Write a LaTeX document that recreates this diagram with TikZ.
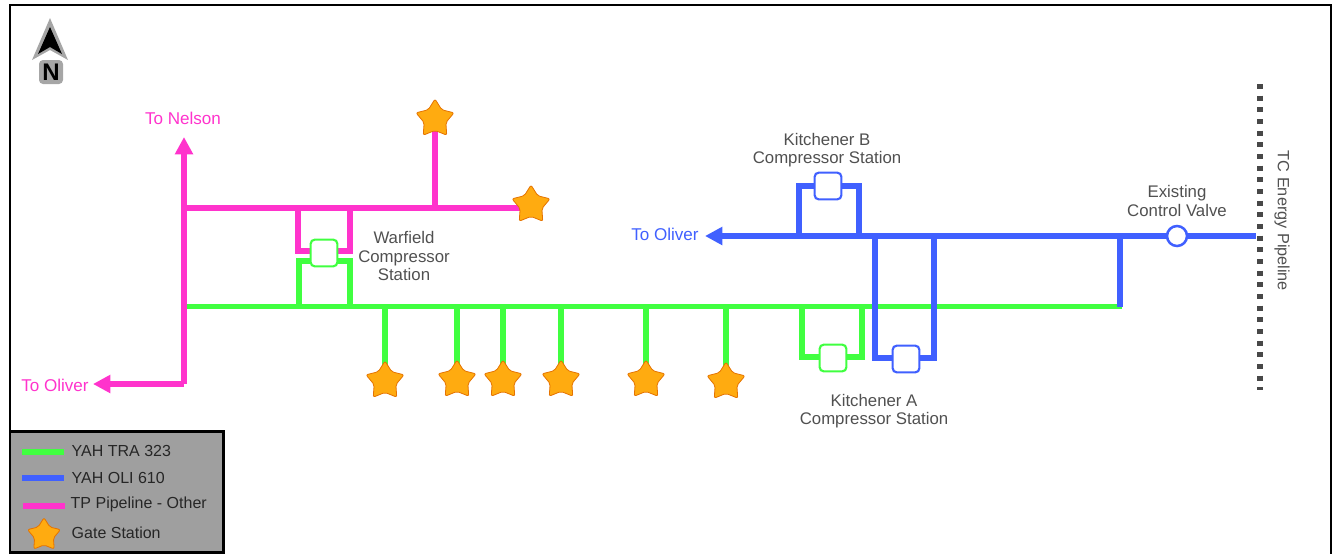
\documentclass[tikz,border=0pt]{standalone}
\usepackage{fontspec}
\setmainfont{Liberation Sans}
\usetikzlibrary{arrows.meta,calc,shapes.geometric}
\definecolor{tragreen}{HTML}{40FF40}
\definecolor{oliblue}{HTML}{4060FF}
\definecolor{tppink}{HTML}{FF33CC}
\definecolor{gateorange}{HTML}{FFAB10}
\definecolor{labelgray}{HTML}{505050}
\pgfdeclarelayer{pipes}
\pgfsetlayers{pipes,main}
\tikzset{
  pipe/.style={line width=4pt,line cap=butt,line join=miter},
  trapipe/.style={pipe,tragreen},
  olipipe/.style={pipe,oliblue},
  tppipe/.style={pipe,tppink},
  bigtip/.tip={Triangle[length=13pt,width=13pt]},
  gatestar/.style={star,star points=5,star point ratio=1.75,minimum size=30pt,inner sep=0pt,
    fill=gateorange,draw=orange!90!black,line width=0.6pt,rounded corners=1.5pt},
  compbox/.style={minimum size=20pt,inner sep=0pt,rounded corners=3pt,fill=white,line width=1.6pt},
  maplabel/.style={text=labelgray,font=\fontsize{12.6}{14}\selectfont,align=center},
  pinklabel/.style={text=tppink,font=\fontsize{12.8}{14}\selectfont},
  bluelabel/.style={text=oliblue,font=\fontsize{12.8}{14}\selectfont},
  keylabel/.style={text=black!85,font=\fontsize{12}{14}\selectfont,anchor=west}
}
\begin{document}
\begin{tikzpicture}[x=0.75pt,y=-0.75pt,>=Latex]
\useasboundingbox (0,0) rectangle (1337,554);
\draw[black,line width=1.5pt] (10,554) -- (10,5) -- (1331,5) -- (1331,554);
% north arrow
\fill[gray!70] (50,18) -- (68,60) -- (50,50) -- (32,60) -- cycle;
\fill[black] (50,27) -- (62,54) -- (50,47) -- (38,54) -- cycle;
\node[fill=gray!70,rounded corners=3pt,inner sep=0pt,minimum width=18pt,minimum height=18pt,
  font=\bfseries\fontsize{18}{18}\selectfont] (north) at (51,72) {N};
% coordinates of the green line
\coordinate (traW) at (187,306.5);
\coordinate (traE) at (1122,306.5);
\coordinate (tee1) at (385,306.5);
\coordinate (tee2) at (457,306.5);
\coordinate (tee3) at (503,306.5);
\coordinate (tee4) at (561,306.5);
\coordinate (tee5) at (646,306.5);
\coordinate (tee6) at (726,306.5);
% gate stations
\node[gatestar] (gateA) at (385,381) {};
\node[gatestar] (gateB) at (457,380) {};
\node[gatestar] (gateC) at (503,380) {};
\node[gatestar] (gateD) at (561,380) {};
\node[gatestar] (gateE) at (646,380) {};
\node[gatestar] (gateF) at (726,382) {};
\node[gatestar] (gateG) at (531,205) {};
\node[gatestar] (gateH) at (435,119) {};
% compressors and valve
\node[compbox,draw=tragreen] (warfield) at (324,253) {};
\node[compbox,draw=tragreen] (kitchAgreen) at (833,358) {};
\node[compbox,draw=oliblue] (kitchAblue) at (906,359) {};
\node[compbox,draw=oliblue] (kitchB) at (828,186) {};
\node[circle,draw=oliblue,fill=white,line width=1.9pt,minimum size=15pt,inner sep=0pt] (valve) at (1177,236) {};
\begin{pgfonlayer}{pipes}
% pink lines
\coordinate (tpS) at (184,384);
\coordinate (tpN) at (184,137);
\coordinate (tpW) at (93,384);
\coordinate (tpJ) at (184,208);
\coordinate (tpT) at (435,208);
\draw[tppipe,-bigtip] (tpS) -- (tpN);
\draw[tppipe,bigtip-] (tpW) -- (tpS);
\draw[tppipe] (tpJ) -- (tpJ -| gateG.center);
\draw[tppipe] (tpT) -- (gateH.center);
\draw[tppipe] (298,208) |- (warfield.center |- 0,251) -| (350,208);
% green lines
\draw[trapipe] (traW) -- (traE);
\draw[trapipe] (299,306) |- (warfield.center |- 0,261) -| (350,306);
\foreach \n/\g in {1/gateA,2/gateB,3/gateC,4/gateD,5/gateE,6/gateF}
  \draw[trapipe] (tee\n) -- (\g.center);
\draw[trapipe] (802,306) |- (kitchAgreen.center |- 0,357) -| (862,306);
% blue lines
\coordinate (oliE) at (1256,236);
\coordinate (oliW) at (705,236);
\draw[olipipe,bigtip-] (oliW) -- (oliE);
\draw[olipipe] (799,236) |- (kitchB.center) -| (859,236);
\draw[olipipe] (875,236) |- (kitchAblue.center |- 0,358) -| (934,236);
\draw[olipipe] (1120,236) -- (1120,307);
\end{pgfonlayer}
% TC pipeline
\draw[labelgray!90!black,line width=4.2pt,dash pattern=on 3.8pt off 4.95pt] (1260,84) -- (1260,390);
% labels
\node[pinklabel] (toNelson) at (183,118) {To Nelson};
\node[pinklabel] (toOliverW) at (55,385) {To Oliver};
\node[bluelabel] (toOliverE) at (665,234) {To Oliver};
\node[maplabel] (warfieldtxt) at (404,256) {Warfield\\Compressor\\Station};
\node[maplabel] (kitchBtxt) at (827,150) {Kitchener B\\Compressor Station};
\node[maplabel] (kitchAtxt) at (874,411) {Kitchener A\\Compressor Station};
\node[maplabel] (valvetxt) at (1177,201) {Existing\\Control Valve};
\node[maplabel,font=\fontsize{12.2}{14}\selectfont,rotate=-90] (tctxt) at (1282,221) {TC Energy Pipeline};
% legend
\node[draw=black,line width=2pt,fill=gray!75,minimum width=160pt,minimum height=91pt,inner sep=0pt] (legend) at (116.5,492) {};
\coordinate (keyA) at (22,452);
\coordinate (keyB) at (22,478);
\coordinate (keyC) at (23,506);
\draw[trapipe] (keyA) -- +(42,0);
\draw[olipipe] (keyB) -- +(42,0);
\draw[tppipe] (keyC) -- +(42,0);
\node[gatestar,minimum size=26pt] (keyD) at (44,535) {};
\node[keylabel] at (67,451) {YAH TRA 323};
\node[keylabel] at (67,478) {YAH OLI 610};
\node[keylabel] at (66,504) {TP Pipeline - Other};
\node[keylabel] at (67,533) {Gate Station};
\end{tikzpicture}
\end{document}
